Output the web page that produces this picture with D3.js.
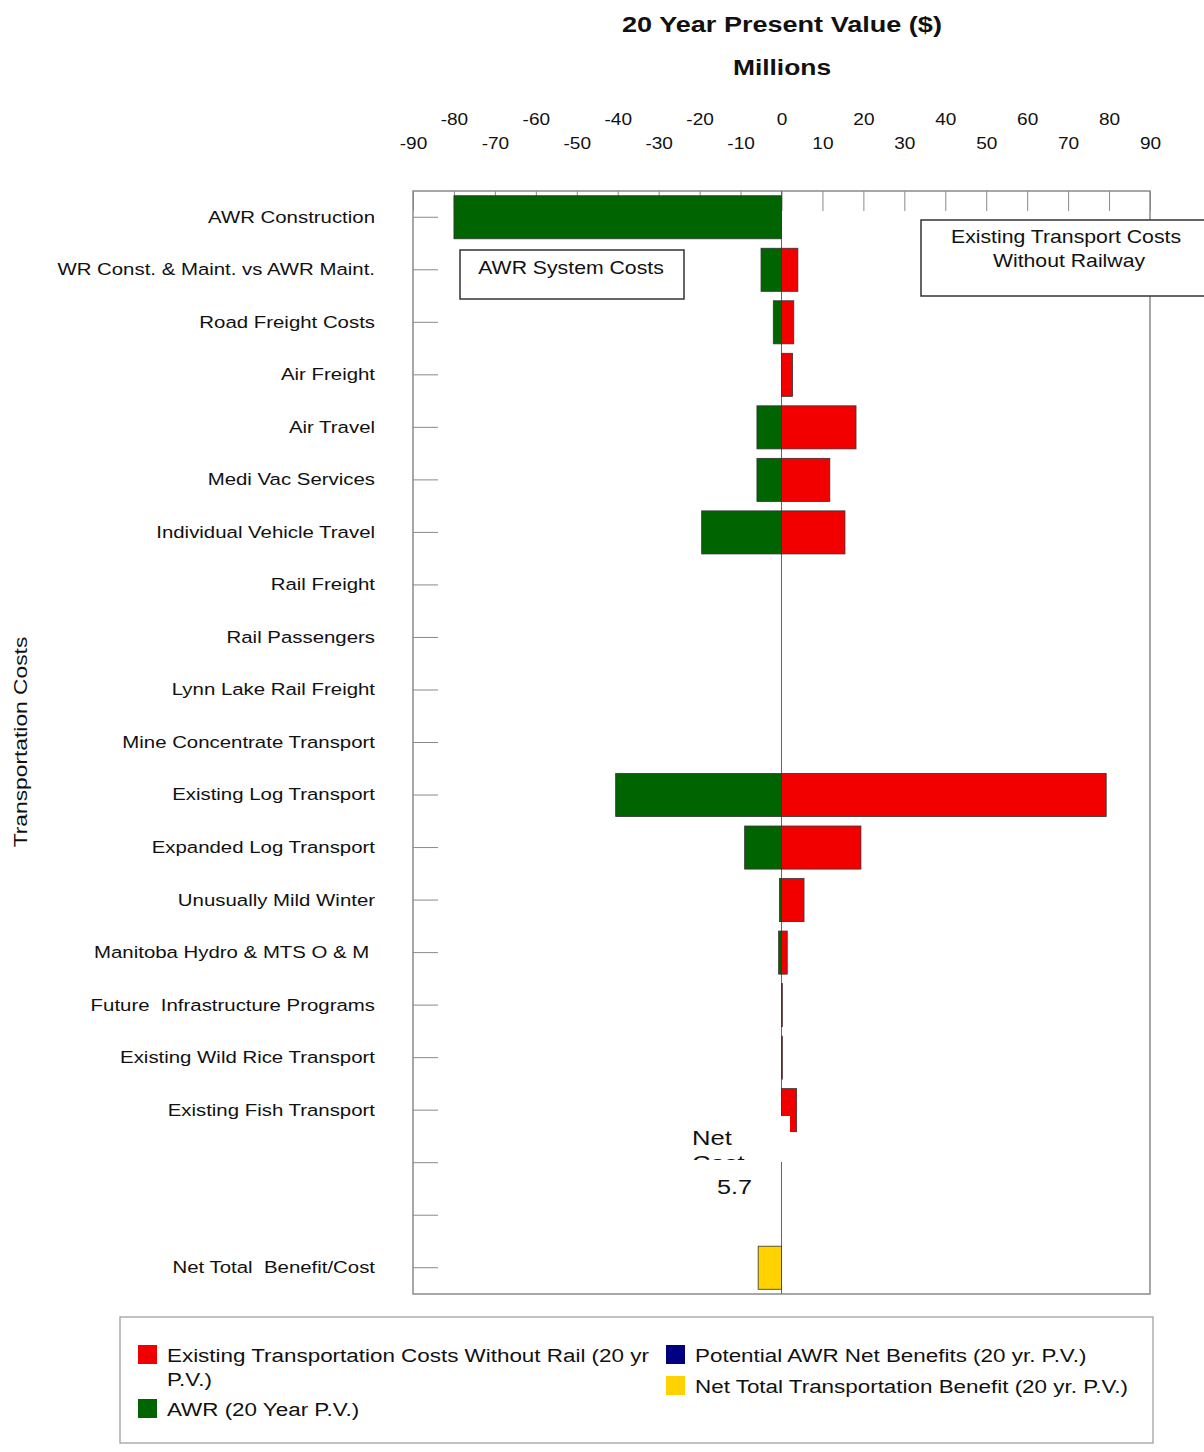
<!DOCTYPE html>
<html>
<head>
<meta charset="utf-8">
<script src="https://cdn.jsdelivr.net/npm/d3@7"></script>
<style>
  html, body { margin: 0; padding: 0; background: #ffffff; }
  text { font-family: "Liberation Sans", Arial, sans-serif; fill: #111; white-space: pre; }
</style>
</head>
<body>
<svg id="chart" width="1204" height="1452"></svg>
<script>
// ---- data ----
const categories = [
  "AWR Construction",
  "WR Const. & Maint. vs AWR Maint.",
  "Road Freight Costs",
  "Air Freight",
  "Air Travel",
  "Medi Vac Services",
  "Individual Vehicle Travel",
  "Rail Freight",
  "Rail Passengers",
  "Lynn Lake Rail Freight",
  "Mine Concentrate Transport",
  "Existing Log Transport",
  "Expanded Log Transport",
  "Unusually Mild Winter",
  "Manitoba Hydro & MTS O & M ",
  "Future  Infrastructure Programs",
  "Existing Wild Rice Transport",
  "Existing Fish Transport",
  "",
  "",
  "Net Total  Benefit/Cost"
];
// AWR (20 Year P.V.) – green, negative side
const awrValues = [-80, -5, -2, 0, -6, -6, -19.5, 0, 0, 0, 0, -40.5, -9, -0.5, -0.7, 0, 0, 0, 0, 0, 0];
// Existing Transportation Costs Without Rail – red, positive side
const existingValues = [0, 4, 3, 2.7, 18.2, 11.8, 15.5, 0, 0, 0, 0, 79.3, 19.4, 5.5, 1.4, 0.2, 0.2, 3.7, 0, 0, 0];
// Net Total Transportation Benefit – yellow
const netValues = [0, 0, 0, 0, 0, 0, 0, 0, 0, 0, 0, 0, 0, 0, 0, 0, 0, 0, 0, 0, -5.7];
const xTicks = [-90, -80, -70, -60, -50, -40, -30, -20, -10, 0, 10, 20, 30, 40, 50, 60, 70, 80, 90];
const legendItems = [
  { label: ["Existing Transportation Costs Without Rail (20 yr", "P.V.)"], color: "#f20000" },
  { label: ["AWR (20 Year P.V.)"], color: "#006400" },
  { label: ["Potential AWR Net Benefits (20 yr. P.V.)"], color: "#000080" },
  { label: ["Net Total Transportation Benefit (20 yr. P.V.)"], color: "#ffd200" }
];

// ---- layout ----
const svg = d3.select("#chart");
const pLeft = 413, pRight = 1150, pTop = 191, pBottom = 1294;
const x = d3.scaleLinear().domain([-90, 90]).range([pLeft, pRight]);
const y = d3.scaleBand().domain(d3.range(categories.length)).range([pTop, pBottom])
  .paddingInner(0.18).paddingOuter(0.09);

// helper for horizontally widened text (the reference font is wide)
function wideText(parent, tx, ty, str, size, sx, anchor, weight) {
  return parent.append("text")
    .attr("transform", `translate(${tx},${ty}) scale(${sx},1)`)
    .attr("text-anchor", anchor || "start")
    .style("font-size", size + "px")
    .style("font-weight", weight || "normal")
    .text(str);
}

// title
wideText(svg, 782, 32, "20 Year Present Value ($)", 22, 1.23, "middle", "bold");
wideText(svg, 782, 75, "Millions", 22, 1.2, "middle", "bold");

// top axis labels (two staggered rows)
const topAxis = svg.append("g").attr("transform", `translate(0,149)`)
  .call(d3.axisTop(x).tickValues(xTicks).tickSize(0).tickPadding(0).tickFormat(d => String(d)));
topAxis.select(".domain").remove();
topAxis.selectAll("text").style("font-size", "17px").attr("fill", "#111")
  .attr("y", d => (Math.abs(d) % 20 === 0) ? -24 : 0)
  .attr("transform", "scale(1.12,1)");

// plot frame
svg.append("rect").attr("x", pLeft).attr("y", pTop).attr("width", pRight - pLeft).attr("height", pBottom - pTop)
  .attr("fill", "none").attr("stroke", "#8a8a8a").attr("stroke-width", 1.5);

// inner top tick marks
const innerTicks = svg.append("g").attr("transform", `translate(0,${pTop})`)
  .call(d3.axisBottom(x).tickValues(xTicks).tickSize(20).tickFormat(""));
innerTicks.select(".domain").remove();
innerTicks.selectAll("line").attr("stroke", "#8a8a8a");

// left ticks and labels
const leftTicks = svg.append("g").attr("transform", `translate(${pLeft},0)`)
  .call(d3.axisRight(y).tickSize(25).tickFormat(""));
leftTicks.select(".domain").remove();
leftTicks.selectAll("line").attr("stroke", "#8a8a8a");
const labelStretch = 1.2;
const leftLabels = svg.append("g").attr("transform", `translate(${pLeft},0)`)
  .call(d3.axisLeft(y).tickSize(0).tickPadding(38).tickFormat(i => categories[i]));
leftLabels.select(".domain").remove();
leftLabels.selectAll("text").style("font-size", "17px").attr("fill", "#111")
  .attr("x", -38 / labelStretch).attr("transform", `scale(${labelStretch},1)`);

// y title
svg.append("text").attr("transform", "translate(27,742) rotate(-90) scale(1.2,1)").attr("text-anchor", "middle")
  .style("font-size", "19px").text("Transportation Costs");

// zero line
svg.append("line").attr("x1", x(0)).attr("x2", x(0)).attr("y1", pTop).attr("y2", pBottom)
  .attr("stroke", "#666").attr("stroke-width", 1);

// bars
function drawBars(values, color) {
  svg.append("g").selectAll("rect").data(values.map((v, i) => ({ v, i })).filter(d => d.v !== 0))
    .join("rect")
    .attr("x", d => x(Math.min(0, d.v)))
    .attr("width", d => Math.abs(x(d.v) - x(0)))
    .attr("y", d => y(d.i))
    .attr("height", y.bandwidth())
    .attr("fill", color)
    .attr("stroke", "#333").attr("stroke-width", 0.8);
}
drawBars(awrValues, "#006400");
drawBars(existingValues, "#f20000");
drawBars(netValues, "#ffd200");

// Net label with white box covering
svg.append("rect").attr("x", 688).attr("y", 1116).attr("width", 102).attr("height", 46).attr("fill", "#fff");
const clip = svg.append("clipPath").attr("id", "netclip");
clip.append("rect").attr("x", 680).attr("y", 1110).attr("width", 120).attr("height", 50);
const netG = svg.append("g").attr("clip-path", "url(#netclip)");
wideText(netG, 692, 1145, "Net", 21, 1.22);
wideText(netG, 692, 1170, "Cost", 21, 1.22);
wideText(svg, 717, 1194, "5.7", 21, 1.2);

// annotation boxes
svg.append("rect").attr("x", 460).attr("y", 250).attr("width", 224).attr("height", 49)
  .attr("fill", "#fff").attr("stroke", "#333").attr("stroke-width", 1.5);
wideText(svg, 571, 274, "AWR System Costs", 18, 1.18, "middle");
svg.append("rect").attr("x", 921).attr("y", 220).attr("width", 300).attr("height", 76)
  .attr("fill", "#fff").attr("stroke", "#333").attr("stroke-width", 1.5);
wideText(svg, 1066, 243, "Existing Transport Costs", 18, 1.18, "middle");
wideText(svg, 1069, 267, "Without Railway", 18, 1.18, "middle");

// legend
svg.append("rect").attr("x", 120).attr("y", 1317).attr("width", 1033).attr("height", 126)
  .attr("fill", "#fff").attr("stroke", "#999").attr("stroke-width", 1.2);
const legendPos = [[138, 1345], [138, 1399], [666, 1345], [666, 1376]];
legendItems.forEach((item, k) => {
  const [lx, ly] = legendPos[k];
  svg.append("rect").attr("x", lx).attr("y", ly).attr("width", 19).attr("height", 19).attr("fill", item.color);
  item.label.forEach((line, j) => {
    wideText(svg, lx + 29, ly + 17 + j * 24, line, 19, 1.18);
  });
});
</script>
</body>
</html>
